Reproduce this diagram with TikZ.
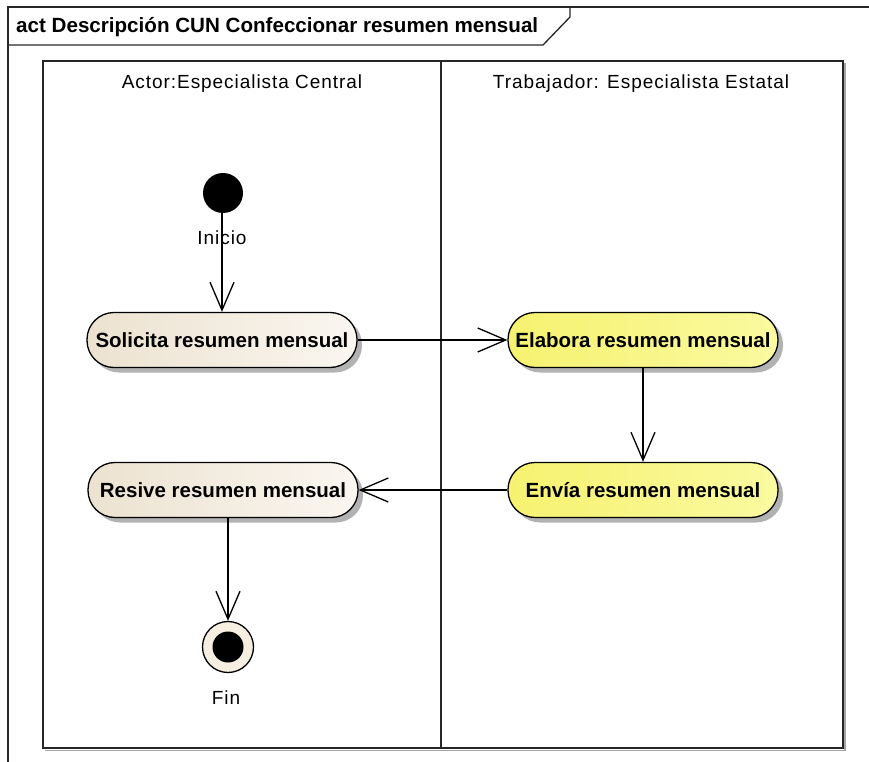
\documentclass[tikz,border=0pt]{standalone}
\usepackage{fontspec}
\setmainfont{Liberation Sans}
\newfontfamily\eafont[LetterSpace=5]{Liberation Sans}
\newfontfamily\eabold{Liberation Sans}
\usetikzlibrary{arrows.meta,shadows}
\begin{document}
\begin{tikzpicture}[x=1pt,y=-1pt,
  font=\eafont\fontsize{19}{22}\selectfont,
  frameline/.style={line width=1.3pt, black!85},
  act/.style={draw=black, line width=1.3pt, rounded corners=27pt,
    minimum width=270pt, minimum height=55pt, inner sep=0pt,
    font=\eabold\bfseries\fontsize{20.5}{24}\selectfont,
    drop shadow={shadow xshift=5pt, shadow yshift=-5pt, fill=black!30, opacity=1}},
  actor/.style={act, left color=tanL, right color=tanR},
  worker/.style={act, left color=yelL, right color=yelR},
  flow/.style={line width=1.3pt, -{Straight Barb[length=28pt,width=24pt,line width=1.3pt]}},
  lbl/.style={inner sep=0pt}
]
\definecolor{tanL}{RGB}{236,226,208}
\definecolor{tanR}{RGB}{250,246,240}
\definecolor{yelL}{RGB}{246,242,112}
\definecolor{yelR}{RGB}{250,250,160}
\definecolor{finfill}{RGB}{245,238,225}
\useasboundingbox (0,0) rectangle (869,762);

% diagram frame and name tab
\draw[frameline] (8,762) -- (8,7) -- (869,7);
\draw[frameline] (8,45) -- (543,45) -- (570,17) -- (570,7);
\node[lbl, anchor=west, font=\eabold\bfseries\fontsize{20.6}{24}\selectfont] (title) at (16,27)
  {act Descripción CUN Confeccionar resumen mensual};

% swimlanes
\draw[black!35, line width=1.5pt] (45,750.5) -- (845,750.5) -- (845,63);
\draw[frameline] (43,61) rectangle (843,748);
\draw[frameline] (441,61) -- (441,748);
\node[lbl] (laneA) at (242,84) {Actor:Especialista Central};
\node[lbl] (laneB) at (641,84) {Trabajador: Especialista Estatal};

% initial and final nodes
\node[circle, fill=black, minimum size=40pt, inner sep=0pt] (ini) at (223,193) {};
\node[circle, draw=black, line width=1.3pt, fill=finfill, minimum size=51pt, inner sep=0pt] (fin) at (228,647) {};
\node[circle, fill=black, minimum size=31pt, inner sep=0pt] (finc) at (228,647) {};

% actions
\node[actor]  (sol) at (222,340) {Solicita resumen mensual};
\node[worker] (ela) at (643,340) {Elabora resumen mensual};
\node[worker] (env) at (643,490) {Envía resumen mensual};
\node[actor]  (res) at (223,490) {Resive resumen mensual};

% control flows
\draw[flow] (ini.south -| sol.north) -- (sol.north);
\draw[flow] (sol.east) -- (ela.west);
\draw[flow] (ela.south) -- (env.north);
\draw[flow] (env.west) -- (res.east);
\draw[flow] (res.south -| fin.north) -- (fin.north);

% node names
\node[lbl] (ininame) at (222,238) {Inicio};
\node[lbl] (finname) at (226,698) {Fin};
\end{tikzpicture}
\end{document}
